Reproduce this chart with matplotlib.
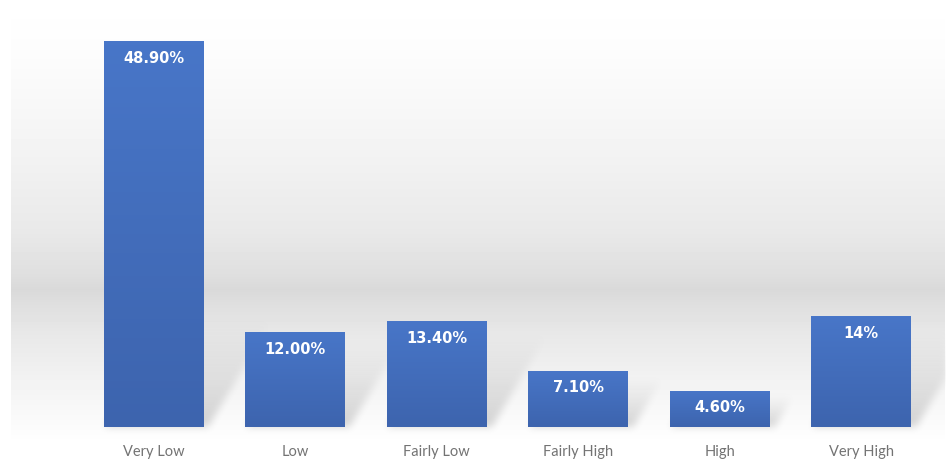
import matplotlib.pyplot as plt
import numpy as np
from matplotlib.colors import LinearSegmentedColormap

categories = ['Very Low', 'Low', 'Fairly Low', 'Fairly High', 'High', 'Very High']
values = [48.9, 12.0, 13.4, 7.1, 4.6, 14.0]
value_labels = ['48.90%', '12.00%', '13.40%', '7.10%', '4.60%', '14%']

W, H = 946, 464
fig = plt.figure(figsize=(W / 100, H / 100), dpi=100)
fig.patch.set_facecolor('white')

# soft gray backdrop band behind the bars
bg = fig.add_axes([11 / W, 24 / H, (944 - 11) / W, 440 / H])
rows = np.arange(440)
stops_y = [0, 60, 150, 230, 275, 290, 305, 335, 380, 420, 440]
stops_g = [255, 252, 243, 233, 223, 217, 223, 232, 242, 250, 254]
shade = np.interp(rows, stops_y, stops_g) / 255.0
bg.imshow(np.repeat(shade[:, None], 8, axis=1), cmap='gray', vmin=0, vmax=1,
          aspect='auto', interpolation='nearest')
bg.axis('off')

# main axes laid over the whole figure
ax = fig.add_axes([0, 0, 1, 1])
ax.patch.set_alpha(0)
step = 141.4      # px between categories
ppu = 7.893       # px per percentage point
x0_px, base_px = 154, 36
xlim = (-x0_px / step, (W - x0_px) / step)
ylim = (-base_px / ppu, (H - base_px) / ppu)
ax.set_xlim(*xlim)
ax.set_ylim(*ylim)
ax.axis('off')

width = 0.707
x = np.arange(len(categories))

bar_cmap = LinearSegmentedColormap.from_list('barfill', ['#4876C8', '#3D64AE'])
bars = ax.bar(x, values, width=width, color='#4472C4', zorder=2)
for b in bars:
    grad = np.linspace(0, 1, 100)[:, None]
    im = ax.imshow(grad, cmap=bar_cmap, aspect='auto', zorder=3, origin='upper',
                   extent=[b.get_x(), b.get_x() + b.get_width(), 0, b.get_height()])
    im.set_clip_path(b)
ax.set_xlim(*xlim)
ax.set_ylim(*ylim)

# blurred diagonal shadows cast up and to the right of each bar
mask = np.zeros((H, W))
yy, xx = np.mgrid[0:H, 0:W]
slope = 0.6
for b in bars:
    (l, y0), (r, y1) = ax.transData.transform([(b.get_x(), 0),
                                               (b.get_x() + b.get_width(), b.get_height())])
    hs = min((y1 - y0) * 0.9, 110)
    dy = yy - y0
    inside = (dy >= 0) & (dy <= hs) & (xx >= l + slope * dy) & (xx <= r + 4 + slope * dy)
    fade = np.clip(1 - dy / max(hs, 1), 0, 1) ** 1.2
    mask = np.maximum(mask, np.where(inside, fade, 0))
kernel = np.ones(9) / 9
for _ in range(2):
    mask = np.apply_along_axis(lambda m: np.convolve(m, kernel, mode='same'), 0, mask)
    mask = np.apply_along_axis(lambda m: np.convolve(m, kernel, mode='same'), 1, mask)
rgba = np.zeros((H, W, 4))
rgba[..., 3] = mask * 0.16
ax.imshow(rgba, origin='lower', extent=[*xlim, *ylim], aspect='auto',
          interpolation='nearest', zorder=1)
ax.set_xlim(*xlim)
ax.set_ylim(*ylim)

for xi, v, lab in zip(x, values, value_labels):
    ax.text(xi, v - 16 / ppu, lab, ha='center', va='center', color='white',
            fontsize=10.5, fontweight='bold', family=['DejaVu Sans'], zorder=4)

for xi, cat in zip(x, categories):
    ax.text(xi, -24 / ppu, cat, ha='center', va='center', color='#737373',
            fontsize=10.5, family=['Lato', 'DejaVu Sans'], zorder=4)

fig.savefig('out.png', dpi=100)
